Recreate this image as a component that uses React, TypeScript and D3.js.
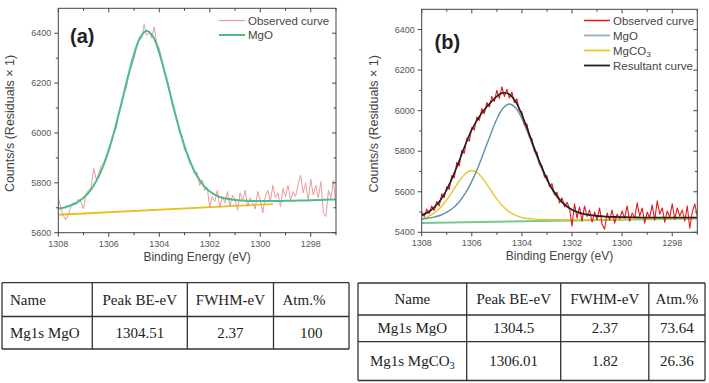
import React from 'react';
import * as d3 from 'd3';

// ---------- DATA ----------
const fitEnergies = d3.range(0, 45).map((i) => 1308 - i * 0.25);
const obsEnergies = d3.range(0, 111).map((i) => +(1308 - i * 0.1).toFixed(1));

// Panel (a)
const aObserved = [
  5742, 5700, 5668, 5652, 5672, 5705, 5720, 5712, 5735, 5722,
  5695, 5758, 5770, 5782, 5858, 5815, 5836, 5870, 5880, 5905,
  5940, 5965, 5998, 6020, 6085, 6110, 6158, 6182, 6245, 6268,
  6300, 6345, 6372, 6380, 6435, 6392, 6405, 6380, 6425, 6360,
  6340, 6290, 6250, 6215, 6180, 6120, 6080, 6055, 6000, 5990,
  5930, 5918, 5880, 5870, 5835, 5842, 5790, 5812, 5770, 5780,
  5700, 5745, 5725, 5770, 5700, 5745, 5720, 5765, 5705, 5750,
  5735, 5690, 5760, 5728, 5770, 5705, 5740, 5720, 5695, 5765,
  5730, 5680, 5745, 5770, 5725, 5790, 5740, 5760, 5705, 5778,
  5745, 5790, 5730, 5765, 5745, 5795, 5830, 5760, 5800, 5730,
  5815, 5750, 5790, 5740, 5805, 5680, 5665, 5770, 5740, 5810,
  5700,
];
const aMgOFit = [
  5696, 5701, 5710, 5722, 5740, 5767, 5806, 5860, 5931, 6019,
  6119, 6222, 6316, 6384, 6410, 6387, 6321, 6230, 6129, 6032,
  5947, 5878, 5826, 5790, 5765, 5750, 5740, 5735, 5731, 5729,
  5728, 5727, 5727, 5727, 5727, 5727, 5728, 5728, 5729, 5729,
  5730, 5731, 5732, 5733, 5733,
];
const aBackgroundEnergies = [1308, 1299.5];
const aBackground = [5672, 5715];

// Panel (b)
const bObserved = [
  5500, 5478, 5515, 5492, 5530, 5508, 5552, 5530, 5590, 5572,
  5625, 5612, 5680, 5668, 5745, 5728, 5805, 5790, 5862, 5850,
  5918, 5905, 5968, 5952, 6010, 5985, 6040, 6018, 6070, 6045,
  6100, 6060, 6118, 6070, 6105, 6062, 6092, 6040, 6058, 6000,
  5995, 5930, 5935, 5870, 5862, 5798, 5795, 5735, 5730, 5672,
  5680, 5625, 5640, 5585, 5598, 5545, 5570, 5525, 5548, 5520,
  5430, 5540, 5470, 5525, 5455, 5530, 5478, 5510, 5450, 5500,
  5462, 5520, 5440, 5415, 5495, 5460, 5510, 5445, 5490, 5465,
  5505, 5470, 5530, 5455, 5495, 5470, 5545, 5480, 5520, 5445,
  5500, 5472, 5535, 5460, 5555, 5490, 5520, 5450, 5505, 5475,
  5540, 5465, 5520, 5480, 5510, 5455, 5530, 5420, 5500, 5540,
  5478,
];
const bMgOFit = [
  5465, 5469, 5475, 5484, 5499, 5520, 5551, 5594, 5651, 5721,
  5801, 5883, 5959, 6013, 6033, 6014, 5961, 5886, 5805, 5726,
  5657, 5601, 5559, 5529, 5509, 5495, 5487, 5482, 5479, 5477,
  5475, 5474, 5473, 5473, 5472, 5472, 5472, 5472, 5472, 5472,
  5472, 5472, 5472, 5472, 5472,
];
const bMgCO3Fit = [
  5465, 5477, 5495, 5522, 5560, 5606, 5653, 5690, 5705, 5691,
  5655, 5609, 5564, 5527, 5501, 5484, 5473, 5468, 5465, 5463,
  5463, 5462, 5462, 5462, 5462, 5462, 5462, 5462, 5462, 5463,
  5463, 5463, 5464, 5464, 5465, 5465, 5465, 5466, 5466, 5467,
  5467, 5468, 5468, 5468, 5469,
];
const bResultFit = [
  5484, 5499, 5523, 5559, 5611, 5677, 5754, 5834, 5906, 5961,
  6004, 6040, 6071, 6088, 6081, 6044, 5980, 5900, 5814, 5734,
  5663, 5606, 5563, 5533, 5512, 5499, 5490, 5485, 5481, 5479,
  5477, 5476, 5475, 5474, 5474, 5473, 5473, 5473, 5473, 5473,
  5473, 5473, 5473, 5473, 5473,
];
const bBackgroundEnergies = [1308, 1297];
const bBackground = [5446, 5468];

const xDomain = [1308, 1297];
const xMajorTicks = [1308, 1306, 1304, 1302, 1300, 1298];
const xMinorTicks = [1307, 1305, 1303, 1301, 1299, 1297];
const aYDomain = [5600, 6500];
const aYTicks = [5600, 5800, 6000, 6200, 6400];
const bYDomain = [5400, 6500];
const bYTicks = [5400, 5600, 5800, 6000, 6200, 6400];

const xTitle = 'Binding Energy (eV)';
const yTitle = 'Counts/s (Residuals × 1)';

const aLegend = ['Observed curve', 'MgO'];
const bLegend = ['Observed curve', 'MgO', 'MgCO3', 'Resultant curve'];

const tableHeader = ['Name', 'Peak BE-eV', 'FWHM-eV', 'Atm.%'];
const tableARows = [['Mg1s MgO', '1304.51', '2.37', '100']];
const tableBRows = [
  ['Mg1s MgO', '1304.5', '2.37', '73.64'],
  ['Mg1s MgCO3', '1306.01', '1.82', '26.36'],
];

// ---------- HELPERS ----------
const SANS = 'Liberation Sans, Arial, sans-serif';
const SERIF = 'Liberation Serif, Times New Roman, serif';

function Chem({ s }) {
  // render trailing "CO3" with subscript 3
  if (s.endsWith('CO3')) {
    return (
      <>
        {s.slice(0, -1)}
        <tspan fontSize="0.7em" dy="0.25em">3</tspan>
      </>
    );
  }
  return <>{s}</>;
}

function Panel({ box, yDomain, yTicks, layers, legend, letter, letterPos, legendX, legendY0, legendDy }) {
  const { left, right, top, bottom } = box;
  const x = d3.scaleLinear().domain(xDomain).range([left, right]);
  const y = d3.scaleLinear().domain(yDomain).range([bottom, top]);
  const yMinor = yTicks.map((t) => t + 100).filter((t) => t < yDomain[1]);
  const clipId = 'clip-' + letter;
  const axisColor = '#444';
  const tickColor = '#555';
  return (
    <g>
      <defs>
        <clipPath id={clipId}>
          <rect x={left} y={top} width={right - left} height={bottom - top} />
        </clipPath>
      </defs>
      <g clipPath={`url(#${clipId})`}>
        {layers.map((L, i) => {
          const pts = L.xs.map((e, j) => [x(e), y(L.ys[j])]);
          const gen = d3.line().curve(L.smooth ? d3.curveCatmullRom : d3.curveLinear);
          return (
            <path key={i} d={gen(pts)} fill="none" stroke={L.color} strokeWidth={L.width}
              strokeLinejoin="round" opacity={L.opacity ?? 1} />
          );
        })}
      </g>
      {/* frame */}
      <rect x={left} y={top} width={right - left} height={bottom - top} fill="none" stroke={axisColor} strokeWidth={1} />
      {/* x ticks */}
      {xMajorTicks.map((t) => (
        <g key={'xm' + t}>
          <line x1={x(t)} x2={x(t)} y1={bottom} y2={bottom + 4} stroke={axisColor} />
          <line x1={x(t)} x2={x(t)} y1={top} y2={top + 4} stroke={axisColor} />
          <text x={x(t)} y={bottom + 14} textAnchor="middle" fontSize={9} fill={tickColor} fontFamily={SANS}>{t}</text>
        </g>
      ))}
      {xMinorTicks.map((t) => (
        <g key={'xn' + t}>
          <line x1={x(t)} x2={x(t)} y1={bottom} y2={bottom + 2.5} stroke={axisColor} />
          <line x1={x(t)} x2={x(t)} y1={top} y2={top + 2.5} stroke={axisColor} />
        </g>
      ))}
      {/* y ticks */}
      {yTicks.map((t) => (
        <g key={'ym' + t}>
          <line x1={left - 4} x2={left} y1={y(t)} y2={y(t)} stroke={axisColor} />
          <line x1={right - 4} x2={right} y1={y(t)} y2={y(t)} stroke={axisColor} />
          <text x={left - 7} y={y(t) + 3} textAnchor="end" fontSize={9} fill={tickColor} fontFamily={SANS}>{t}</text>
        </g>
      ))}
      {yMinor.map((t) => (
        <g key={'yn' + t}>
          <line x1={left - 2.5} x2={left} y1={y(t)} y2={y(t)} stroke={axisColor} />
          <line x1={right - 2.5} x2={right} y1={y(t)} y2={y(t)} stroke={axisColor} />
        </g>
      ))}
      {/* titles */}
      <text x={(left + right) / 2} y={bottom + 28} textAnchor="middle" fontSize={12} fill="#444" fontFamily={SANS}>{xTitle}</text>
      <text transform={`translate(${left - 44},${(top + bottom) / 2 + 3}) rotate(-90)`} textAnchor="middle"
        fontSize={12.5} fill="#444" fontFamily={SANS}>{yTitle}</text>
      {/* panel letter */}
      <text x={letterPos[0]} y={letterPos[1]} fontSize={20} fontWeight="bold" fill="#222" fontFamily={SANS}>({letter})</text>
      {/* legend */}
      {legend.map((lg, i) => (
        <g key={'lg' + i}>
          <line x1={legendX} x2={legendX + 26} y1={legendY0 + i * legendDy} y2={legendY0 + i * legendDy}
            stroke={lg.color} strokeWidth={lg.width} />
          <text x={legendX + 29} y={legendY0 + i * legendDy + 4} fontSize={11.5} fill="#444" fontFamily={SANS}>
            <Chem s={lg.label} />
          </text>
        </g>
      ))}
    </g>
  );
}

function Table({ x0, cols, rows, header, rowLines, leftAlignFirst, leftAlignLast }) {
  const lineColor = '#333';
  const all = [header, ...rows];
  return (
    <g fontFamily={SERIF} fontSize={15} fill="#222">
      {rowLines.map((yy, i) => (
        <line key={'h' + i} x1={cols[0]} x2={cols[cols.length - 1]} y1={yy} y2={yy} stroke={lineColor} strokeWidth={1.3} />
      ))}
      {cols.map((xx, i) => (
        <line key={'v' + i} x1={xx} x2={xx} y1={rowLines[0]} y2={rowLines[rowLines.length - 1]} stroke={lineColor} strokeWidth={1.3} />
      ))}
      {all.map((r, ri) =>
        r.map((cell, ci) => {
          const cy = (rowLines[ri] + rowLines[ri + 1]) / 2 + 5;
          let tx = (cols[ci] + cols[ci + 1]) / 2;
          let anchor = 'middle';
          if (leftAlignFirst && ci === 0) { tx = cols[0] + 8; anchor = 'start'; }
          if (leftAlignLast && ri === 0 && ci === 3) { tx = cols[3] + 9; anchor = 'start'; }
          return (
            <text key={ri + '-' + ci} x={tx} y={cy} textAnchor={anchor}>
              <Chem s={cell} />
            </text>
          );
        })
      )}
    </g>
  );
}

export default function App() {
  const aLayers = [
    { xs: aBackgroundEnergies, ys: aBackground, color: '#e6c21e', width: 1.8 },
    { xs: obsEnergies, ys: aObserved, color: '#e99a9a', width: 1 },
    { xs: fitEnergies, ys: aMgOFit, color: '#4dbb8c', width: 2, smooth: true },
  ];
  const bLayers = [
    { xs: bBackgroundEnergies, ys: bBackground, color: '#77c98e', width: 2 },
    { xs: fitEnergies, ys: bMgCO3Fit, color: '#e8c52c', width: 1.4, smooth: true },
    { xs: fitEnergies, ys: bMgOFit, color: '#5f8fae', width: 1.4, smooth: true },
    { xs: obsEnergies, ys: bObserved, color: '#e01b1b', width: 1.1 },
    { xs: fitEnergies, ys: bResultFit, color: '#1f1f1f', width: 1.6, smooth: true },
  ];
  const aLeg = [
    { label: aLegend[0], color: '#e99a9a', width: 1.2 },
    { label: aLegend[1], color: '#4dbb8c', width: 2 },
  ];
  const bLeg = [
    { label: bLegend[0], color: '#e01b1b', width: 1.5 },
    { label: bLegend[1], color: '#8fb0c6', width: 1.8 },
    { label: bLegend[2], color: '#e8c52c', width: 1.8 },
    { label: bLegend[3], color: '#1f1f1f', width: 1.8 },
  ];
  return (
    <svg width={709} height={383} style={{ position: 'absolute', left: 0, top: 0, background: '#fff' }}>
      <rect x={0} y={0} width={709} height={383} fill="#fff" />
      <Panel box={{ left: 58.3, right: 336, top: 8.3, bottom: 232.7 }} yDomain={aYDomain} yTicks={aYTicks}
        layers={aLayers} legend={aLeg} letter="a" letterPos={[70, 43]} legendX={219} legendY0={20.5} legendDy={14.5} />
      <Panel box={{ left: 421.7, right: 697.3, top: 9.3, bottom: 232.3 }} yDomain={bYDomain} yTicks={bYTicks}
        layers={bLayers} legend={bLeg} letter="b" letterPos={[434.5, 49]} legendX={584} legendY0={20.5} legendDy={15} />
      <Table cols={[2, 92.3, 187.3, 273.5, 349]} rowLines={[282.7, 316.5, 349]} header={tableHeader} rows={tableARows}
        leftAlignFirst leftAlignLast />
      <Table cols={[358, 466.7, 560.7, 648.8, 705]} rowLines={[283, 315, 341.7, 380.5]} header={tableHeader} rows={tableBRows} />
    </svg>
  );
}
